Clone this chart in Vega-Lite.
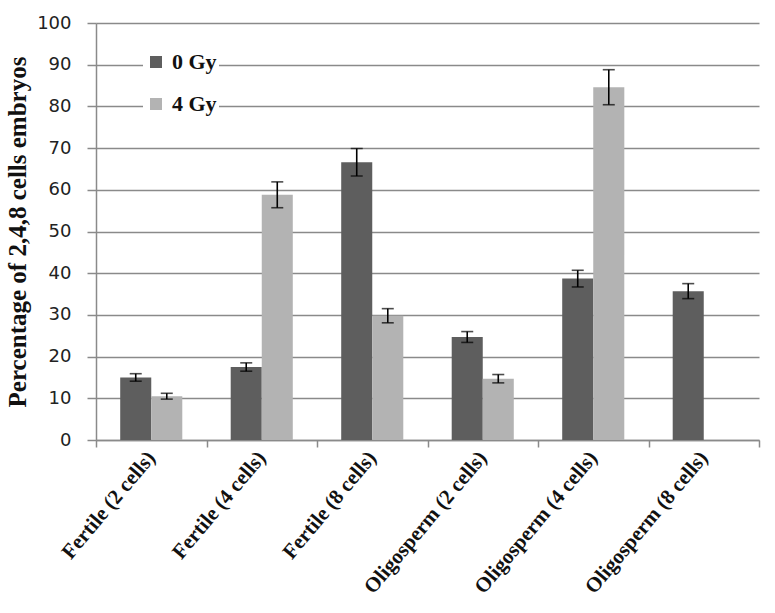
{
  "$schema": "https://vega.github.io/schema/vega-lite/v6.json",
  "width": 663,
  "height": 417,
  "autosize": "none",
  "padding": {"left": 96, "top": 23, "right": 16, "bottom": 173},
  "background": "white",
  "config": {"view": {"stroke": null}},
  "data": {
    "values": [
      {"group": "Fertile (2 cells)", "dose": "0 Gy", "value": 15.0, "lo": 14.1, "hi": 15.9},
      {"group": "Fertile (2 cells)", "dose": "4 Gy", "value": 10.5, "lo": 9.8, "hi": 11.2},
      {"group": "Fertile (4 cells)", "dose": "0 Gy", "value": 17.5, "lo": 16.5, "hi": 18.5},
      {"group": "Fertile (4 cells)", "dose": "4 Gy", "value": 58.8, "lo": 55.7, "hi": 61.9},
      {"group": "Fertile (8 cells)", "dose": "0 Gy", "value": 66.6, "lo": 63.3, "hi": 69.9},
      {"group": "Fertile (8 cells)", "dose": "4 Gy", "value": 29.8, "lo": 28.1, "hi": 31.5},
      {"group": "Oligosperm (2 cells)", "dose": "0 Gy", "value": 24.7, "lo": 23.4, "hi": 26.0},
      {"group": "Oligosperm (2 cells)", "dose": "4 Gy", "value": 14.7, "lo": 13.7, "hi": 15.7},
      {"group": "Oligosperm (4 cells)", "dose": "0 Gy", "value": 38.7, "lo": 36.7, "hi": 40.7},
      {"group": "Oligosperm (4 cells)", "dose": "4 Gy", "value": 84.6, "lo": 80.4, "hi": 88.8},
      {"group": "Oligosperm (8 cells)", "dose": "0 Gy", "value": 35.7, "lo": 33.9, "hi": 37.5}
    ]
  },
  "encoding": {
    "x": {
      "field": "group",
      "type": "nominal",
      "sort": null,
      "title": null,
      "scale": {"paddingInner": 0, "paddingOuter": 0},
      "axis": {
        "tickBand": "extent",
        "domainColor": "#8a8a8a",
        "domainWidth": 1.5,
        "tickColor": "#8a8a8a",
        "tickWidth": 1.5,
        "tickSize": 7,
        "labelAngle": -50,
        "labelFont": "Liberation Serif",
        "labelFontWeight": "bold",
        "labelFontSize": 21,
        "labelColor": "#111111",
        "labelPadding": 7
      }
    },
    "xOffset": {
      "field": "dose",
      "type": "nominal",
      "scale": {"paddingInner": 0, "paddingOuter": 0.78}
    }
  },
  "layer": [
    {
      "mark": {"type": "bar"},
      "encoding": {
        "y": {
          "field": "value",
          "type": "quantitative",
          "scale": {"domain": [0, 100], "nice": false},
          "title": "Percentage of 2,4,8 cells embryos",
          "axis": {
            "values": [0, 10, 20, 30, 40, 50, 60, 70, 80, 90, 100],
            "grid": true,
            "gridColor": "#8a8a8a",
            "gridWidth": 1.5,
            "domainColor": "#8a8a8a",
            "domainWidth": 1.5,
            "tickColor": "#8a8a8a",
            "tickWidth": 1.5,
            "tickSize": 9,
            "labelFont": "DejaVu Sans",
            "labelFontSize": 18,
            "labelColor": "#222222",
            "labelPadding": 16,
            "titleFont": "Liberation Serif",
            "titleFontWeight": "bold",
            "titleFontSize": 25,
            "titleColor": "#111111",
            "titlePadding": 6
          }
        },
        "color": {
          "field": "dose",
          "type": "nominal",
          "scale": {"domain": ["0 Gy", "4 Gy"], "range": ["#5e5e5e", "#b3b3b3"]},
          "legend": {
            "title": null,
            "orient": "none",
            "legendX": 47,
            "legendY": 26,
            "fillColor": "white",
            "padding": 2,
            "symbolType": "square",
            "symbolSize": 144,
            "symbolStrokeWidth": 0,
            "labelFont": "Liberation Serif",
            "labelFontWeight": "bold",
            "labelFontSize": 22,
            "labelColor": "#111111",
            "labelOffset": 5,
            "rowPadding": 20
          }
        }
      }
    },
    {
      "mark": {"type": "rule", "color": "black", "strokeWidth": 1.6},
      "encoding": {
        "y": {"field": "lo", "type": "quantitative"},
        "y2": {"field": "hi"}
      }
    },
    {
      "mark": {"type": "tick", "color": "black", "thickness": 1.6, "size": 12},
      "encoding": {
        "y": {"field": "lo", "type": "quantitative"}
      }
    },
    {
      "mark": {"type": "tick", "color": "black", "thickness": 1.6, "size": 12},
      "encoding": {
        "y": {"field": "hi", "type": "quantitative"}
      }
    }
  ]
}
